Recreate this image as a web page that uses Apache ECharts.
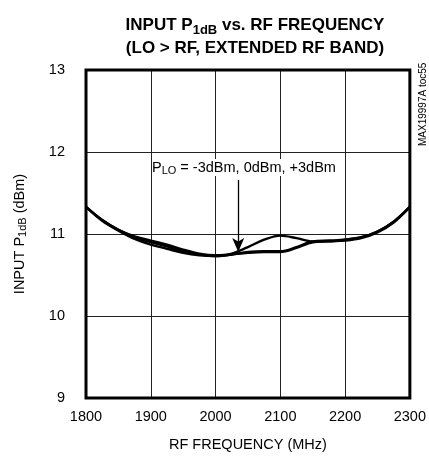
<!DOCTYPE html>
<html>
<head>
<meta charset="utf-8">
<script src="https://cdn.jsdelivr.net/npm/echarts@6/dist/echarts.min.js"></script>
<style>
  html, body { margin: 0; padding: 0; background: #fff; }
  #main { width: 429px; height: 457px; }
</style>
</head>
<body>
<div id="main"></div>
<script>
// frequency points (MHz)
var freq = [1800, 1825, 1850, 1875, 1900, 1925, 1950, 1975, 2000, 2025, 2050,
            2075, 2100, 2125, 2150, 2175, 2200, 2225, 2250, 2275, 2300];
// input P1dB (dBm), one curve per LO drive level
var p1dbM3 = [11.33, 11.17, 11.05, 10.97, 10.92, 10.87, 10.81, 10.76, 10.74, 10.76, 10.84,
              10.93, 10.98, 10.95, 10.91, 10.91, 10.93, 10.96, 11.03, 11.15, 11.33];
var p1db0 = [11.33, 11.17, 11.05, 10.96, 10.90, 10.85, 10.79, 10.75, 10.73, 10.75, 10.77,
             10.78, 10.78, 10.83, 10.90, 10.91, 10.92, 10.95, 11.02, 11.14, 11.33];
var p1dbP3 = [11.33, 11.16, 11.04, 10.94, 10.87, 10.82, 10.77, 10.74, 10.73, 10.75, 10.78,
              10.79, 10.79, 10.84, 10.91, 10.92, 10.93, 10.96, 11.03, 11.15, 11.33];
var xTicks = [1800, 1900, 2000, 2100, 2200, 2300];
var yTicks = [9, 10, 11, 12, 13];

var font = "'Liberation Sans', Arial, sans-serif";

function pairs(ys) {
  return freq.map(function (f, i) { return [f, ys[i]]; });
}

function curve(name, ys) {
  return {
    name: name,
    type: "line",
    data: pairs(ys),
    smooth: 0.35,
    showSymbol: false,
    lineStyle: { color: "#000", width: 2.4 },
    z: 3
  };
}

var chart = echarts.init(document.getElementById("main"));
var option = {
  animation: false,
  title: {
    text: "INPUT P{s|1dB} vs. RF FREQUENCY\n(LO > RF, EXTENDED RF BAND)",
    left: 250,
    top: 9,
    textAlign: "center",
    textStyle: {
      fontFamily: font,
      fontWeight: "bold",
      fontSize: 17,
      lineHeight: 23,
      color: "#000",
      rich: {
        s: { fontFamily: font, fontWeight: "bold", fontSize: 13, verticalAlign: "bottom", padding: [8, 0, 0, 0] }
      }
    }
  },
  grid: {
    left: 86, right: 14, top: 70, bottom: 59,
    show: true, borderColor: "#000", borderWidth: 3, z: 5
  },
  xAxis: {
    type: "value",
    min: xTicks[0], max: xTicks[xTicks.length - 1], interval: 100,
    name: "RF FREQUENCY (MHz)",
    nameLocation: "middle",
    nameGap: 39,
    nameTextStyle: { fontFamily: font, fontSize: 14.5, color: "#000" },
    axisLine: { show: false },
    axisTick: { show: false },
    axisLabel: {
      fontFamily: font, fontSize: 14.5, color: "#000", margin: 11,
      formatter: function (v) { return String(v); }
    },
    splitLine: { lineStyle: { color: "#222", width: 1 } }
  },
  yAxis: {
    type: "value",
    min: yTicks[0], max: yTicks[yTicks.length - 1], interval: 1,
    name: "INPUT P{s|1dB} (dBm)",
    nameLocation: "middle",
    nameGap: 58,
    nameTextStyle: {
      fontFamily: font, fontSize: 14.5, color: "#000",
      rich: { s: { fontFamily: font, fontSize: 11, verticalAlign: "bottom", padding: [6, 0, 0, 0] } }
    },
    axisLine: { show: false },
    axisTick: { show: false },
    axisLabel: {
      fontFamily: font, fontSize: 14.5, color: "#000", margin: 21,
      formatter: function (v) { return String(v); }
    },
    splitLine: { lineStyle: { color: "#222", width: 1 } }
  },
  series: [
    curve("-3dBm", p1dbM3),
    curve("0dBm", p1db0),
    Object.assign(curve("+3dBm", p1dbP3), {
      markLine: {
        silent: true,
        symbol: ["none", "arrow"],
        symbolSize: [9, 14],
        label: { show: false },
        lineStyle: { color: "#000", width: 1.3, type: "solid" },
        data: [[{ coord: [2035, 11.66] }, { coord: [2035, 10.78] }]]
      }
    })
  ],
  graphic: [
    {
      type: "text",
      left: 152,
      top: 159,
      style: {
        text: "P{s|LO} = -3dBm, 0dBm, +3dBm",
        font: "14.5px " + font,
        fill: "#000",
        backgroundColor: "#fff",
        rich: { s: { font: "11px " + font, verticalAlign: "bottom", padding: [6, 0, 0, 0] } }
      },
      z: 10
    },
    {
      type: "text",
      x: 428,
      y: 146,
      rotation: Math.PI / 2,
      style: {
        text: "MAX19997A toc55",
        font: "10px " + font,
        fill: "#000",
        textAlign: "left",
        textVerticalAlign: "bottom"
      }
    }
  ]
};
chart.setOption(option);
</script>
</body>
</html>
